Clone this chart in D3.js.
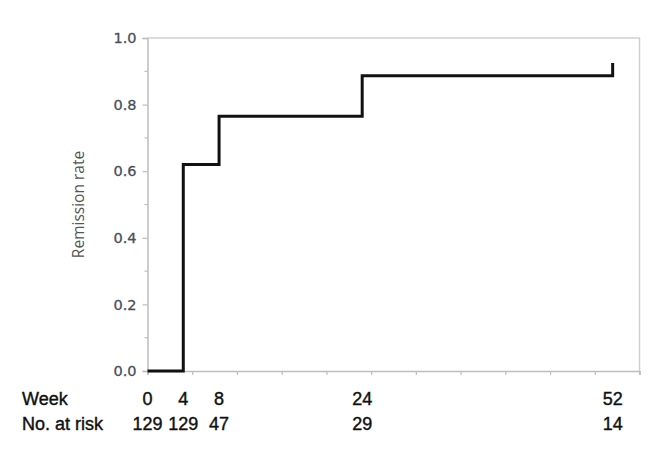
<!DOCTYPE html>
<html>
<head>
<meta charset="utf-8">
<script src="https://cdn.jsdelivr.net/npm/d3@7"></script>
<style>
  body { margin: 0; background: #fff; }
  svg { display: block; }
</style>
</head>
<body>
<div id="chart"></div>
<script>
// step points of the remission curve (week, rate)
const weeks = [0, 4, 8, 24, 52]
const rates = [0, 0.62, 0.765, 0.887, 0.925]
const atRisk = [129, 129, 47, 29, 14]
const yTicks = [0, 0.2, 0.4, 0.6, 0.8, 1.0]

const W = 670, H = 455
const m = { left: 147.5, right: 639.5, top: 38, bottom: 371 }

const svg = d3.select('#chart').append('svg')
  .attr('width', W).attr('height', H)

const x = d3.scaleLinear().domain([0, 55]).range([m.left, m.right])
const y = d3.scaleLinear().domain([0, 1]).range([m.bottom, m.top])

const axisColor = '#bdbdbd'

// frame (top + right)
svg.append('path')
  .attr('d', `M${m.left},${m.top}H${m.right}V${m.bottom}`)
  .attr('fill', 'none')
  .attr('stroke', '#d0d0d0')
  .attr('stroke-width', 1.5)

// y axis
const yAxis = svg.append('g')
  .attr('transform', `translate(${m.left},0)`)
  .call(d3.axisLeft(y).tickValues(yTicks).tickFormat(d3.format('.1f')).tickSize(5).tickPadding(6))
yAxis.select('.domain').attr('stroke', axisColor).attr('stroke-width', 1.5)
yAxis.selectAll('.tick line').attr('stroke', axisColor).attr('stroke-width', 1.2)
yAxis.selectAll('.tick text')
  .attr('fill', '#4a4f5a')
  .attr('stroke', '#4a4f5a').attr('stroke-width', 0.3)
  .style('font-family', '"DejaVu Sans", sans-serif')
  .style('font-size', '14.5px')

// minor y ticks
svg.append('g').selectAll('line')
  .data(d3.range(1, 10, 2).map(d => d / 10))
  .join('line')
  .attr('x1', m.left - 3).attr('x2', m.left)
  .attr('y1', d => y(d)).attr('y2', d => y(d))
  .attr('stroke', axisColor).attr('stroke-width', 1.2)

// x axis (unlabelled ticks every 5 weeks)
const xAxis = svg.append('g')
  .attr('transform', `translate(0,${m.bottom})`)
  .call(d3.axisBottom(x).tickValues(d3.range(0, 56, 5)).tickFormat('').tickSize(4))
xAxis.select('.domain').attr('stroke', axisColor).attr('stroke-width', 1.5)
xAxis.selectAll('.tick line').attr('stroke', axisColor).attr('stroke-width', 1.2)

// y label
svg.append('text')
  .attr('transform', `translate(84,${(m.top + m.bottom) / 2}) rotate(-90)`)
  .attr('text-anchor', 'middle')
  .attr('fill', '#555')
  .style('font-family', '"Open Sans", sans-serif')
  .style('font-size', '15.5px')
  .text('Remission rate')

// step curve
const pts = weeks.map((w, i) => [w, rates[i]])
const line = d3.line()
  .x(d => x(d[0]))
  .y(d => y(d[1]))
  .curve(d3.curveStepAfter)
svg.append('path')
  .datum(pts)
  .attr('d', line)
  .attr('fill', 'none')
  .attr('stroke', '#111')
  .attr('stroke-width', 3)

// table below
const tableFont = 'Liberation Sans, Arial, sans-serif'
const rows = [
  { label: 'Week', vals: weeks, yy: 405 },
  { label: 'No. at risk', vals: atRisk, yy: 430 }
]
rows.forEach(r => {
  const g = svg.append('g')
    .style('font-family', tableFont)
    .style('font-size', '18px')
    .attr('fill', '#111')
    .attr('stroke', '#111').attr('stroke-width', 0.4)
  g.append('text').attr('x', 22).attr('y', r.yy).text(r.label)
  g.selectAll('text.v')
    .data(r.vals)
    .join('text')
    .attr('class', 'v')
    .attr('x', (d, i) => x(weeks[i]))
    .attr('y', r.yy)
    .attr('text-anchor', 'middle')
    .text(d => d)
})
</script>
</body>
</html>
